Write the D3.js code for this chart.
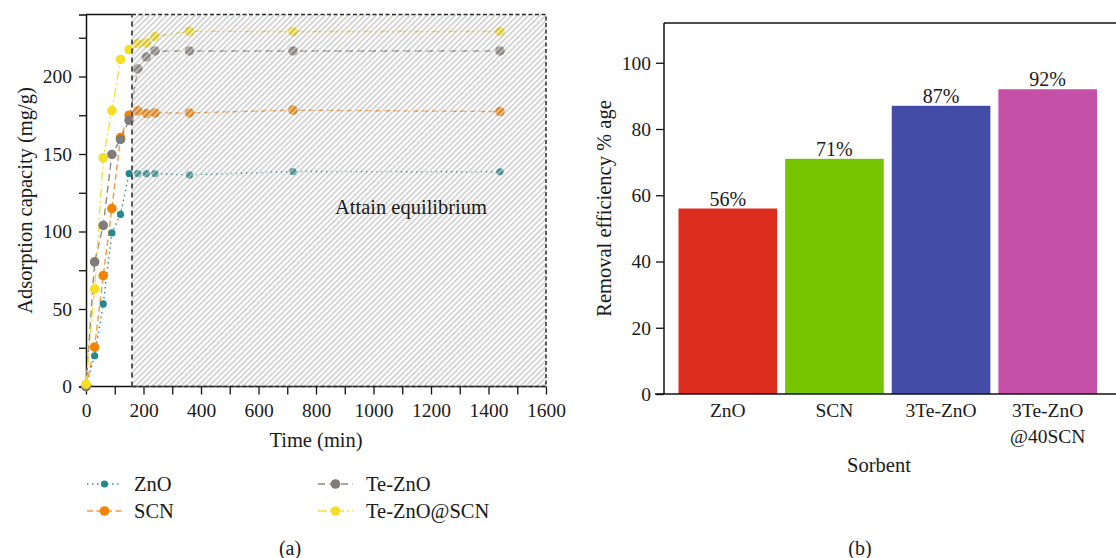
<!DOCTYPE html>
<html>
<head>
<meta charset="utf-8">
<script src="https://cdn.jsdelivr.net/npm/d3@7/dist/d3.min.js"></script>
<style>
  html, body { margin: 0; padding: 0; background: #fff; }
  svg { display: block; }
  text { font-family: "Liberation Serif", "DejaVu Serif", serif; fill: #1a1a1a; }
</style>
</head>
<body>
<svg id="chart" width="1116" height="558"></svg>
<script>
// ---- Kinetics data (panel a) ----
const times = [0, 30, 60, 90, 120, 150, 180, 210, 240, 360, 720, 1440];
const znoCapacity = [0, 19.8, 53.3, 99.1, 111, 137.4, 137.4, 137.4, 137.4, 136.5, 138.7, 138.5];
const scnCapacity = [0, 25.4, 71.6, 114.8, 160.6, 175, 177.8, 176.1, 176.5, 176.5, 178.3, 177.4];
const teZnoCapacity = [0, 80.4, 103.9, 149.7, 159.4, 171.8, 204.9, 212.6, 216.5, 216.5, 216.5, 216.5];
const teZnoScnCapacity = [1.5, 63, 147.5, 178, 211, 217.4, 221.3, 221.7, 225.8, 229.2, 229, 229];
const seriesNames = ["ZnO", "SCN", "Te-ZnO", "Te-ZnO@SCN"];
const equilibriumStart = 160;

// ---- Removal efficiency data (panel b) ----
const sorbents = [["ZnO"], ["SCN"], ["3Te-ZnO"], ["3Te-ZnO", "@40SCN"]];
const efficiency = [56, 71, 87, 92];
const yTicksB = [0, 20, 40, 60, 80, 100];

const svg = d3.select("#chart");
const serif = "'Liberation Serif', 'DejaVu Serif', serif";

// ================= Panel (a) =================
const x = d3.scaleLinear().domain([0, 1600]).range([86, 546]);
const y = d3.scaleLinear().domain([0, 240]).range([386.5, 14.5]);

const series = [
  { name: seriesNames[0], values: znoCapacity, color: "#26888b", line: "#2a8e90", dash: "1.5,3.5", r: 3.6 },
  { name: seriesNames[1], values: scnCapacity, color: "#f38307", line: "#f39a3e", dash: "6,3.5", r: 4.8 },
  { name: seriesNames[2], values: teZnoCapacity, color: "#817c79", line: "#8d8985", dash: "7,4.5", r: 4.8 },
  { name: seriesNames[3], values: teZnoScnCapacity, color: "#f5de24", line: "#f3e040", dash: "9,3,2,3", r: 4.8 }
];

// hatch pattern for the equilibrium region
const defs = svg.append("defs");
const pat = defs.append("pattern")
  .attr("id", "hatch").attr("patternUnits", "userSpaceOnUse")
  .attr("width", 4).attr("height", 4)
  .attr("patternTransform", "rotate(45)");
pat.append("rect").attr("x", 0).attr("y", 0).attr("width", 1.5).attr("height", 4)
  .attr("fill", "#8a8a8a").attr("fill-opacity", 0.45);
pat.append("rect").attr("x", 2).attr("y", 0).attr("width", 1.6).attr("height", 4)
  .attr("fill", "#ffffff").attr("fill-opacity", 0.55);

const gA = svg.append("g");

// frame top edge before the equilibrium region
gA.append("line")
  .attr("x1", x(0)).attr("x2", x(equilibriumStart))
  .attr("y1", y(240)).attr("y2", y(240))
  .attr("stroke", "#111").attr("stroke-width", 1.5);

// axes
const yAxisA = d3.axisLeft(y)
  .tickValues(d3.range(0, 241, 25))
  .tickSize(7).tickPadding(7)
  .tickFormat(d => d % 50 === 0 ? d : "");
gA.append("g").attr("transform", `translate(${x(0)},0)`).call(yAxisA)
  .attr("font-family", serif)
  .call(g => g.select(".domain").attr("stroke", "#111").attr("stroke-width", 1.5))
  .call(g => g.selectAll(".tick line").attr("stroke", "#111").attr("stroke-width", 1.3))
  .call(g => g.selectAll(".tick text").attr("font-size", 19.5).attr("fill", "#1a1a1a"));

const xAxisA = d3.axisBottom(x)
  .tickValues(d3.range(0, 1601, 100))
  .tickSize(8).tickPadding(9)
  .tickFormat(d => d % 200 === 0 ? d : "");
gA.append("g").attr("transform", `translate(0,${y(0)})`).call(xAxisA)
  .attr("font-family", serif)
  .call(g => g.select(".domain").attr("d", `M${x(0)},0H${x(1600)}`).attr("stroke", "#111").attr("stroke-width", 1.5))
  .call(g => g.selectAll(".tick line").attr("stroke", "#111").attr("stroke-width", 1.3))
  .call(g => g.selectAll(".tick text").attr("font-size", 19.5).attr("fill", "#1a1a1a"));

// series lines and markers
const lineGen = d3.line().x((d, i) => x(times[i])).y(d => y(d));
series.forEach(s => {
  gA.append("path").datum(s.values)
    .attr("d", lineGen)
    .attr("fill", "none")
    .attr("stroke", s.line)
    .attr("stroke-width", 1.4)
    .attr("stroke-dasharray", s.dash);
});
series.forEach(s => {
  gA.selectAll(null).data(s.values).enter().append("circle")
    .attr("cx", (d, i) => x(times[i]))
    .attr("cy", d => y(d))
    .attr("r", s.r)
    .attr("fill", s.color);
});

// equilibrium region overlay: hatched fill, dashed outline
const ex0 = x(equilibriumStart), ex1 = x(1600), ey0 = y(0), ey1 = y(240);
gA.append("rect")
  .attr("x", ex0).attr("y", ey1)
  .attr("width", ex1 - ex0).attr("height", ey0 - ey1)
  .attr("fill", "url(#hatch)");
gA.append("path")
  .attr("d", `M${ex0},${ey1}H${ex1}V${ey0}H${ex0}`)
  .attr("fill", "none")
  .attr("stroke", "#2a2a2a").attr("stroke-width", 1.5)
  .attr("stroke-dasharray", "4,2.5");
gA.append("line")
  .attr("x1", ex0).attr("x2", ex0)
  .attr("y1", ey0).attr("y2", ey1)
  .attr("stroke", "#555").attr("stroke-width", 2)
  .attr("stroke-dasharray", "5,4");

gA.append("text")
  .attr("x", 411).attr("y", 214)
  .attr("text-anchor", "middle").attr("font-size", 20.5)
  .text("Attain equilibrium");

// axis titles
gA.append("text")
  .attr("transform", `translate(32,${(y(0) + y(240)) / 2}) rotate(-90)`)
  .attr("text-anchor", "middle").attr("font-size", 20.5)
  .text("Adsorption capacity (mg/g)");
gA.append("text")
  .attr("x", (x(0) + x(1600)) / 2).attr("y", 447)
  .attr("text-anchor", "middle").attr("font-size", 20.5)
  .text("Time (min)");

// legend
const legendPos = [
  { lx: 87, ly: 484 }, { lx: 87, ly: 511 },
  { lx: 318, ly: 484 }, { lx: 318, ly: 511 }
];
series.forEach((s, i) => {
  const p = legendPos[i];
  const lg = gA.append("g").attr("transform", `translate(${p.lx},${p.ly})`);
  lg.append("line").attr("x1", 0).attr("x2", 35).attr("y1", 0).attr("y2", 0)
    .attr("stroke", s.line).attr("stroke-width", 1.5).attr("stroke-dasharray", s.dash);
  lg.append("circle").attr("cx", 17.5).attr("cy", 0).attr("r", s.r).attr("fill", s.color);
  lg.append("text").attr("x", i < 2 ? 47 : 48).attr("y", 0).attr("dy", "0.35em")
    .attr("font-size", 20.5).text(s.name);
});

gA.append("text").attr("x", 290).attr("y", 555)
  .attr("text-anchor", "middle").attr("font-size", 20).text("(a)");

// ================= Panel (b) =================
const xb = d3.scaleBand().domain(d3.range(efficiency.length))
  .range([674.5, 1101]).paddingInner(0.075).paddingOuter(0.0375);
const yb = d3.scaleLinear().domain([0, 112]).range([394, 23]);
const barColors = ["#dc2c1e", "#76c500", "#434ca6", "#c450a8"];

const gB = svg.append("g");

gB.selectAll("rect.bar").data(efficiency).enter().append("rect")
  .attr("class", "bar")
  .attr("x", (d, i) => xb(i))
  .attr("y", d => yb(d))
  .attr("width", xb.bandwidth())
  .attr("height", d => yb(0) - yb(d))
  .attr("fill", (d, i) => barColors[i]);

gB.selectAll("text.val").data(efficiency).enter().append("text")
  .attr("class", "val")
  .attr("x", (d, i) => xb(i) + xb.bandwidth() / 2)
  .attr("y", d => yb(d) - 3)
  .attr("text-anchor", "middle").attr("font-size", 20)
  .text(d => d + "%");

// y axis
const yAxisB = d3.axisLeft(yb).tickValues(yTicksB).tickSize(8).tickPadding(5);
gB.append("g").attr("transform", "translate(664,0)").call(yAxisB)
  .attr("font-family", serif)
  .call(g => g.select(".domain").attr("d", `M0,${yb(0)}V${yb(112)}`).attr("stroke", "#111").attr("stroke-width", 1.5))
  .call(g => g.selectAll(".tick line").attr("stroke", "#111").attr("stroke-width", 1.3))
  .call(g => g.selectAll(".tick text").attr("font-size", 19.5).attr("fill", "#1a1a1a"));

// baseline and top frame
gB.append("line").attr("x1", 655).attr("x2", 1116).attr("y1", yb(0)).attr("y2", yb(0))
  .attr("stroke", "#111").attr("stroke-width", 1.5);
gB.append("line").attr("x1", 664).attr("x2", 1116).attr("y1", yb(112)).attr("y2", yb(112))
  .attr("stroke", "#111").attr("stroke-width", 1.5);

// category labels
sorbents.forEach((lines, i) => {
  const t = gB.append("text")
    .attr("x", xb(i) + xb.bandwidth() / 2).attr("y", 417)
    .attr("text-anchor", "middle").attr("font-size", 19.5);
  lines.forEach((ln, j) => {
    t.append("tspan").attr("x", xb(i) + xb.bandwidth() / 2)
      .attr("dy", j === 0 ? 0 : 26).text(ln);
  });
});

gB.append("text")
  .attr("transform", `translate(611,${(yb(0) + yb(112)) / 2}) rotate(-90)`)
  .attr("text-anchor", "middle").attr("font-size", 20.5)
  .text("Removal efficiency % age");
gB.append("text").attr("x", 879).attr("y", 472)
  .attr("text-anchor", "middle").attr("font-size", 20.5).text("Sorbent");
gB.append("text").attr("x", 860).attr("y", 555)
  .attr("text-anchor", "middle").attr("font-size", 20).text("(b)");
</script>
</body>
</html>
